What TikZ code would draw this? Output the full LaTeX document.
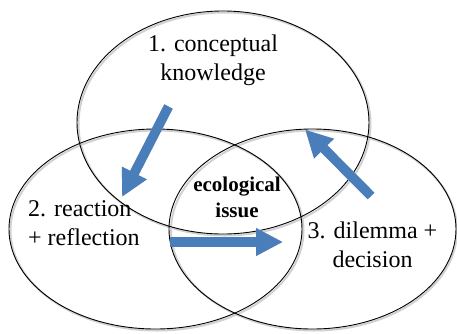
\documentclass[tikz,border=0pt]{standalone}
\usepackage{fontspec}
\setmainfont{Liberation Serif}
\usetikzlibrary{arrows.meta}
\definecolor{arrowblue}{RGB}{74,126,187}
\tikzset{
  ring/.style={draw=black, line width=0.9pt},
  ringshadow/.style={draw=black!18, line width=2pt},
  blockarrow/.style={draw=arrowblue, line width=9.5pt, -{Triangle[width=26pt,length=27pt]}},
  blockshadow/.style={draw=black!20, line width=9.5pt, -{Triangle[width=26pt,length=27pt]}},
  lbl/.style={font=\fontsize{24}{29}\selectfont, inner sep=0pt},
  center/.style={font=\bfseries\fontsize{21}{26}\selectfont, inner sep=0pt}
}
\begin{document}
\begin{tikzpicture}[x=1pt,y=-1pt]
\useasboundingbox (0,0) rectangle (457,333);
% shadows of ellipses
\draw[ringshadow] (224.5,124) ellipse [x radius=146pt, y radius=111.5pt];
\draw[ringshadow] (157,230.5) ellipse [x radius=146.5pt, y radius=100pt];
\draw[ringshadow] (314,230.5) ellipse [x radius=143pt, y radius=100pt];
% ellipses
\draw[ring] (223,122.5) ellipse [x radius=146pt, y radius=111.5pt];
\draw[ring] (155.5,229) ellipse [x radius=146.5pt, y radius=100pt];
\draw[ring] (312.5,229) ellipse [x radius=143.5pt, y radius=100pt];
% labels (base anchor = baseline of last line)
\node[lbl, align=center, anchor=base] (k) at (213,80) {1. conceptual\\knowledge};
\node[lbl, align=left, anchor=base west] (r) at (28,245) {2. reaction\\+ reflection};
\node[lbl, align=center, anchor=base] (d) at (372.5,267) {3. dilemma +\\decision};
\node[center, align=center, anchor=base] (e) at (237,217) {ecological\\issue};
% arrow anchor points
\coordinate (a1s) at (168.5,106.5);
\coordinate (a1e) at (122,197);
\coordinate (a2s) at (170,242);
\coordinate (a2e) at (283,242);
\coordinate (a3s) at (371,196);
\coordinate (a3e) at (305,129.5);
% arrow shadows
\begin{scope}[shift={(2,3)}]
\draw[blockshadow] (a1s) -- (a1e);
\draw[blockshadow] (a2s) -- (a2e);
\draw[blockshadow] (a3s) -- (a3e);
\end{scope}
% arrows
\draw[blockarrow] (a1s) -- (a1e);
\draw[blockarrow] (a2s) -- (a2e);
\draw[blockarrow] (a3s) -- (a3e);
\end{tikzpicture}
\end{document}
